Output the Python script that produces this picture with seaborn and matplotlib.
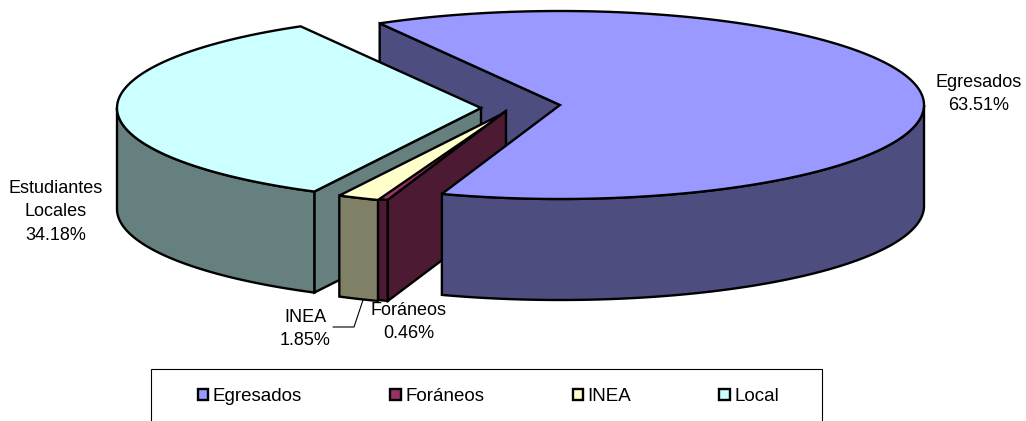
import numpy as np
import matplotlib
matplotlib.use("Agg")
import matplotlib.pyplot as plt
from matplotlib.patches import Patch, Rectangle
import seaborn as sns

# ==========================
# DATA
# ==========================
legend_names = ["Egresados", "Foráneos", "INEA", "Local"]
slice_labels = ["Egresados", "Foráneos", "INEA", "Estudiantes\nLocales"]
shares = [63.51, 0.46, 1.85, 34.18]
colors = ["#9999FF", "#993366", "#FFFFCC", "#CCFFFF"]

# ==========================
# CONFIG (pixel layout of the 3D pie)
# ==========================
W, H = 1026, 421
RX, RY = 364, 94
DEPTH = 101
START_ANGLE = 119.7
apexes = [(560, 105), (506, 111), (506, 112), (481, 108)]
label_pos = [(979, 94), (409, 322), (305, 329), (56, 212)]
LW = 1.7

sns.set_theme(style="white")
plt.rcParams["font.family"] = ["Liberation Sans", "DejaVu Sans"]
palette = sns.color_palette(colors)
dark = [tuple(np.array(c) * 0.5) for c in palette]

fig = plt.figure(figsize=(W / 100, H / 100), dpi=100)
ax = fig.add_axes([0, 0, 1, 1])
ax.set_xlim(0, W)
ax.set_ylim(H, 0)
ax.axis("off")


def rim(apex, t):
    t = np.radians(t)
    return apex[0] + RX * np.cos(t), apex[1] - RY * np.sin(t)


def poly(xs, ys, color, z):
    ax.fill(xs, ys, facecolor=color, edgecolor="black", linewidth=LW,
            joinstyle="miter", zorder=z)


def top_face(apex, t0, t1, color, z):
    ts = np.linspace(t0, t1, 200)
    x, y = rim(apex, ts)
    poly(np.r_[apex[0], x], np.r_[apex[1], y], color, z)


def outer_wall(apex, t0, t1, color, z):
    # only the front half of the rim can be seen
    t0, t1 = max(t0, -180), min(t1, 0)
    ts = np.linspace(t0, t1, 200)
    x, y = rim(apex, ts)
    poly(np.r_[x, x[::-1]], np.r_[y, y[::-1] + DEPTH], color, z)


def side_wall(apex, t, color, z):
    x, y = rim(apex, t)
    poly([apex[0], x, x, apex[0]],
         [apex[1], y, y + DEPTH, apex[1] + DEPTH], color, z)


# slice angles, clockwise from the start angle
ends = START_ANGLE - np.cumsum(shares) / 100 * 360
starts = np.r_[START_ANGLE, ends[:-1]]

# ==========================
# SLICES (back to front)
# ==========================
side_wall(apexes[0], starts[0], dark[0], 1)

side_wall(apexes[3], starts[3], dark[3], 2)
outer_wall(apexes[3], ends[3], starts[3], dark[3], 2)
top_face(apexes[3], ends[3], starts[3], palette[3], 2)

outer_wall(apexes[1], ends[1], starts[1], dark[1], 3)
top_face(apexes[1], ends[1], starts[1], palette[1], 3)

outer_wall(apexes[2], ends[2], starts[2], dark[2], 4)
top_face(apexes[2], ends[2], starts[2], palette[2], 4)

side_wall(apexes[1], starts[1], dark[1], 4.5)

outer_wall(apexes[0], ends[0], starts[0], dark[0], 5)
top_face(apexes[0], ends[0], starts[0], palette[0], 5)

# ==========================
# LABELS
# ==========================
for name, share, (x, y) in zip(slice_labels, shares, label_pos):
    ax.text(x, y, f"{name}\n{share:.2f}%", ha="center", va="center",
            fontsize=13, color="black", linespacing=1.5, zorder=6)

# leader line for INEA
ax.plot([363, 354, 333], [300, 327, 327], color="black", linewidth=0.8, zorder=6)

# ==========================
# LEGEND (box runs past the bottom of the picture)
# ==========================
ax.add_patch(Rectangle((151, 369), 671, 80, facecolor="white", edgecolor="black",
                       linewidth=0.8, zorder=7))
handles = [Patch(facecolor=c, edgecolor="black", linewidth=LW) for c in palette]
leg = ax.legend(
    handles, legend_names,
    ncol=4,
    loc="upper left",
    bbox_to_anchor=(198, 388),
    bbox_transform=ax.transData,
    frameon=False,
    labelcolor="black",
    fontsize=13.5,
    handlelength=0.55,
    handleheight=0.55,
    handletextpad=0.25,
    columnspacing=4.7,
    borderpad=0,
    borderaxespad=0,
)
leg.set_zorder(8)

fig.savefig("out.png", dpi=100)
